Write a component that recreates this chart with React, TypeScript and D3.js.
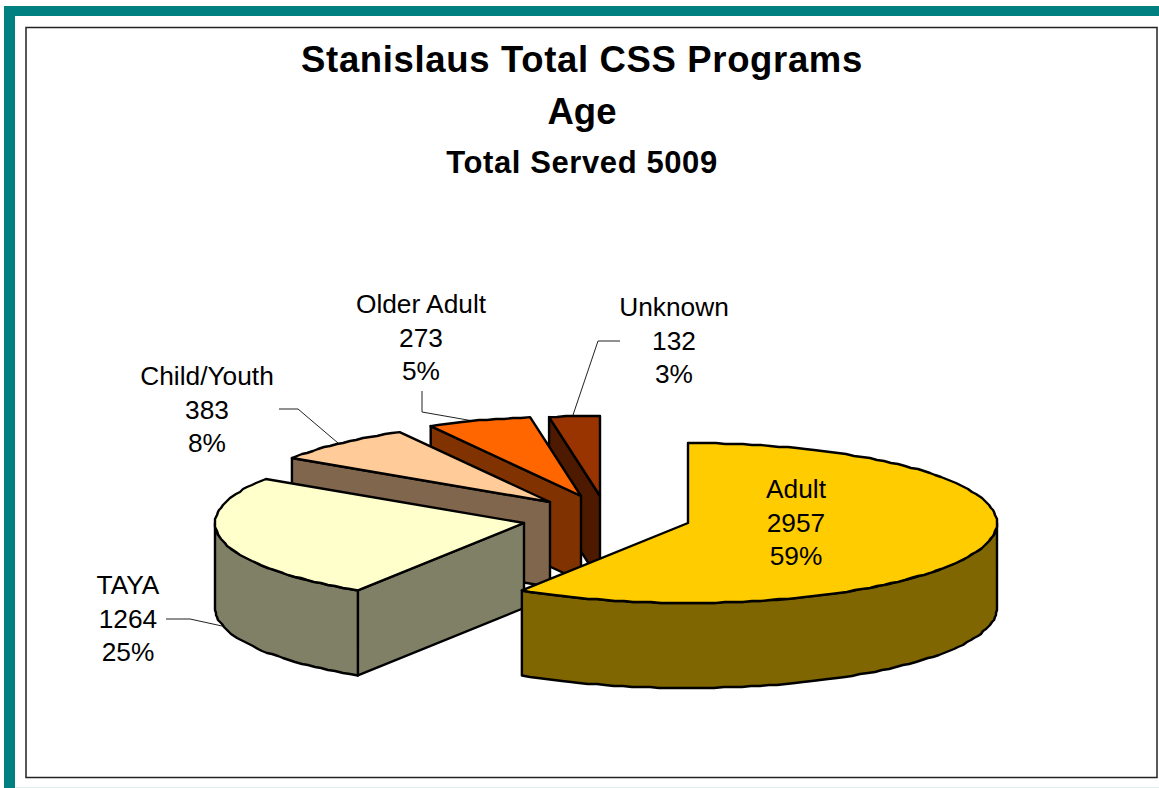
import React from "react";
import * as d3 from "d3";

const categories = ["Adult", "TAYA", "Child/Youth", "Older Adult", "Unknown"];
const counts = [2957, 1264, 383, 273, 132];
const percentLabels = ["59%", "25%", "8%", "5%", "3%"];
const topColors = ["#FFCC00", "#FFFFCC", "#FFCC99", "#FF6600", "#993300"];
const wallColors = ["#806600", "#808066", "#80664D", "#803300", "#4D1A00"];
const titleLines = ["Stanislaus Total CSS Programs", "Age", "Total Served 5009"];

// layout
const W = 1159, H = 788;
const RX = 309, RY = 80, DEPTH = 85;
const apexes: [number, number][] = [[688, 523], [524, 523], [550, 502], [581, 496], [600, 496]];
const labelPos: [number, number][] = [[796, 498], [128, 594], [207, 385], [421, 313], [674, 316]];
const LINE_H = 33.5;
const leaders: [number, number][][] = [
  [],
  [[166, 619], [190, 619], [222, 626]],
  [[279, 409], [298, 409], [338, 443]],
  [[422, 391], [422, 412], [479, 422]],
  [[620, 341], [598, 341], [573, 415]],
];
const FONT = "'Liberation Sans', Arial, sans-serif";

export default function App() {
  const arcs = d3.pie<number>().sort(null).startAngle(0).endAngle(2 * Math.PI)(counts);
  const lineGen = d3.line<[number, number]>();
  const sx = d3.scaleLinear().domain([-1, 1]).range([-RX, RX]);
  const sy = d3.scaleLinear().domain([-1, 1]).range([RY, -RY]);

  const rim = (cx: number, cy: number, a0: number, a1: number, dy = 0): [number, number][] => {
    const n = Math.max(1, Math.ceil((a1 - a0) / 0.03));
    return d3.range(n + 1).map((i) => {
      const a = a0 + ((a1 - a0) * i) / n;
      const x = cx + sx(Math.sin(a));
      const y = cy + sy(Math.cos(a)) + dy;
      return i === 0 || i === n ? ([x, y] as [number, number]) : ([Math.round(x), Math.round(y)] as [number, number]);
    });
  };

  const slices = arcs.map((arc, i) => {
    const [cx, cy] = apexes[i];
    const { startAngle: a0, endAngle: a1 } = arc;
    const top = lineGen([[cx, cy], ...rim(cx, cy, a0, a1)])! + "Z";
    const walls: string[] = [];
    const edge = (a: number) => {
      const [p] = rim(cx, cy, a, a);
      return lineGen([[cx, cy], p, [p[0], p[1] + DEPTH], [cx, cy + DEPTH]])! + "Z";
    };
    if (a0 >= Math.PI) walls.push(edge(a0));
    if (a1 <= Math.PI) walls.push(edge(a1));
    const w0 = Math.max(a0, Math.PI / 2);
    const w1 = Math.min(a1, (3 * Math.PI) / 2);
    if (w1 > w0) {
      const up = rim(cx, cy, w0, w1);
      const down = rim(cx, cy, w0, w1, DEPTH).reverse();
      walls.push(lineGen([...up, ...down])! + "Z");
    }
    return { i, top, walls };
  });

  return (
    <svg
      width={W}
      height={H}
      viewBox={`0 0 ${W} ${H}`}
      style={{ position: "absolute", left: 0, top: 0, display: "block", background: "#fff" }}
    >
      <rect x={4} y={6} width={W - 4} height={10} fill="#008080" />
      <rect x={4} y={6} width={11} height={H - 6} fill="#008080" />
      <rect x={15} y={787} width={W - 15} height={1} fill="#E3F0F0" />
      <rect x={26} y={27.5} width={1131} height={750} fill="#fff" stroke="#222" strokeWidth={1.5} />

      <g fontFamily={FONT} fontWeight="bold" fill="#000" textAnchor="middle">
        <text x={582} y={72} fontSize={36.5} letterSpacing={0.65}>{titleLines[0]}</text>
        <text x={582} y={124} fontSize={36.5}>{titleLines[1]}</text>
        <text x={582} y={173} fontSize={31} letterSpacing={0.6}>{titleLines[2]}</text>
      </g>

      {leaders.map((pts, i) =>
        pts.length ? <path key={i} d={lineGen(pts)!} fill="none" stroke="#222" strokeWidth={1} /> : null
      )}

      {[...slices].reverse().map((s) => (
        <g key={s.i} stroke="#000" strokeWidth={2.4} strokeLinejoin="round">
          {s.walls.map((d, j) => (
            <path key={j} d={d} fill={wallColors[s.i]} />
          ))}
          <path d={s.top} fill={topColors[s.i]} />
        </g>
      ))}

      <g fontFamily={FONT} fontSize={26.3} fill="#000" textAnchor="middle">
        {categories.map((c, i) => (
          <text key={c} x={labelPos[i][0]} y={labelPos[i][1]}>
            <tspan x={labelPos[i][0]}>{c}</tspan>
            <tspan x={labelPos[i][0]} dy={LINE_H}>{counts[i]}</tspan>
            <tspan x={labelPos[i][0]} dy={LINE_H}>{percentLabels[i]}</tspan>
          </text>
        ))}
      </g>
    </svg>
  );
}
